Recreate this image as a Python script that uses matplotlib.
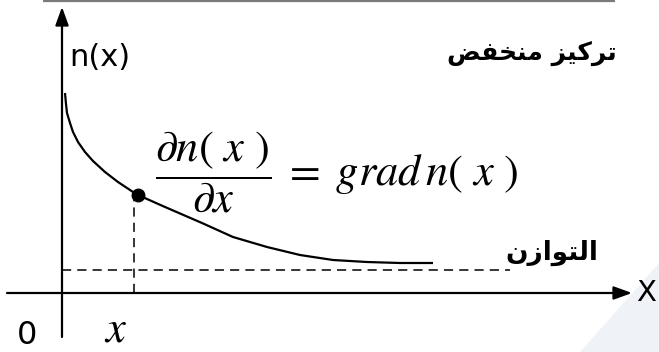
import matplotlib
matplotlib.use("Agg")
import matplotlib.pyplot as plt
from matplotlib.patches import Polygon

# pixel-based diagram units: origin at the axes crossing, n grows upwards
curve_x = [3, 4, 5, 8, 11, 16, 23, 31, 43, 56, 71, 76, 103, 140, 171, 205,
           238, 271, 305, 338, 371]
curve_n = [200, 189, 180, 170, 161, 151, 141, 132, 121, 111, 101, 98, 86, 70,
           56, 46, 38, 33, 31, 30, 30]
point_x, point_n = 76, 98
guide_x = 72
equilibrium_n = 23
equilibrium_end = 448

label_n = "n(x)"
label_X = "X"
label_zero = "0"
label_x = "$x$"
label_low = "تركيز منخفض"
label_eq = "التوازن"
formula = r"$\dfrac{\partial n(\ x\ )}{\partial x}\;=\;grad\,n(\ x\ )$"

# minimal Arabic shaping (matplotlib has no bidi / joining support)
FORMS = {
    "ا": ("\ufe8d", "\ufe8e", None, None),
    "ت": ("\ufe95", "\ufe96", "\ufe97", "\ufe98"),
    "ر": ("\ufead", "\ufeae", None, None),
    "ز": ("\ufeaf", "\ufeb0", None, None),
    "ك": ("\ufed9", "\ufeda", "\ufedb", "\ufedc"),
    "ي": ("\ufef1", "\ufef2", "\ufef3", "\ufef4"),
    "م": ("\ufee1", "\ufee2", "\ufee3", "\ufee4"),
    "ن": ("\ufee5", "\ufee6", "\ufee7", "\ufee8"),
    "خ": ("\ufea5", "\ufea6", "\ufea7", "\ufea8"),
    "ف": ("\ufed1", "\ufed2", "\ufed3", "\ufed4"),
    "ض": ("\ufebd", "\ufebe", "\ufebf", "\ufec0"),
    "ل": ("\ufedd", "\ufede", "\ufedf", "\ufee0"),
    "و": ("\ufeed", "\ufeee", None, None),
}


def shape(text):
    out = []
    for i, ch in enumerate(text):
        if ch not in FORMS:
            out.append(ch)
            continue
        prev = text[i - 1] if i > 0 else ""
        nxt = text[i + 1] if i + 1 < len(text) else ""
        f = FORMS[ch]
        join_prev = prev in FORMS and FORMS[prev][2] is not None
        join_next = nxt in FORMS and f[2] is not None
        if join_prev and join_next:
            out.append(f[3])
        elif join_prev:
            out.append(f[1])
        elif join_next:
            out.append(f[2])
        else:
            out.append(f[0])
    return "".join(reversed(out))


plt.rcParams["mathtext.fontset"] = "stix"
plt.rcParams["font.family"] = ["DejaVu Sans"]

fig = plt.figure(figsize=(6.59, 3.52), dpi=100)
ax = fig.add_axes([0, 0, 1, 1])
ax.set_xlim(-62, 597)
ax.set_ylim(-59, 293)
ax.axis("off")

# background decoration
ax.add_patch(Polygon([(518, -59), (597, 30), (597, -59)], closed=True,
                     facecolor="#eff2f7", edgecolor="none", zorder=0))
ax.plot([-19, 553], [292.5, 292.5], color="#7a7a7a", lw=1.6, solid_capstyle="butt")

# axes with arrows
arrow = dict(arrowstyle="-|>,head_length=1.1,head_width=0.4", color="black",
             lw=1.6, shrinkA=0, shrinkB=0)
ax.annotate("", xy=(0, 286), xytext=(0, -44), arrowprops=arrow)
ax.annotate("", xy=(570, 0), xytext=(-55, 0), arrowprops=arrow)

# concentration curve and guides
ax.plot(curve_x, curve_n, color="black", lw=1.6, solid_capstyle="butt",
        solid_joinstyle="round")
ax.plot([0, equilibrium_end], [equilibrium_n, equilibrium_n], color="black",
        lw=1.1, dashes=(6, 4))
ax.plot([guide_x, guide_x], [0, point_n], color="black", lw=1.1, dashes=(6, 4))
ax.plot([point_x], [point_n], "o", color="black", ms=9)

# labels
ax.text(7, 236, label_n, fontsize=22, ha="left", va="center")
ax.text(574, 0, label_X, fontsize=21, ha="left", va="center")
ax.text(-35, -58, label_zero, fontsize=23, ha="center", va="bottom")
ax.text(54, -58, label_x, fontsize=32, ha="center", va="bottom")
ax.text(93, 121, formula, fontsize=32, ha="left", va="center")
ax.text(555, 240, shape(label_low), fontsize=18, fontweight="bold",
        ha="right", va="center")
ax.text(536, 40, shape(label_eq), fontsize=19, fontweight="bold",
        ha="right", va="center")

fig.savefig("out.png", dpi=100)
